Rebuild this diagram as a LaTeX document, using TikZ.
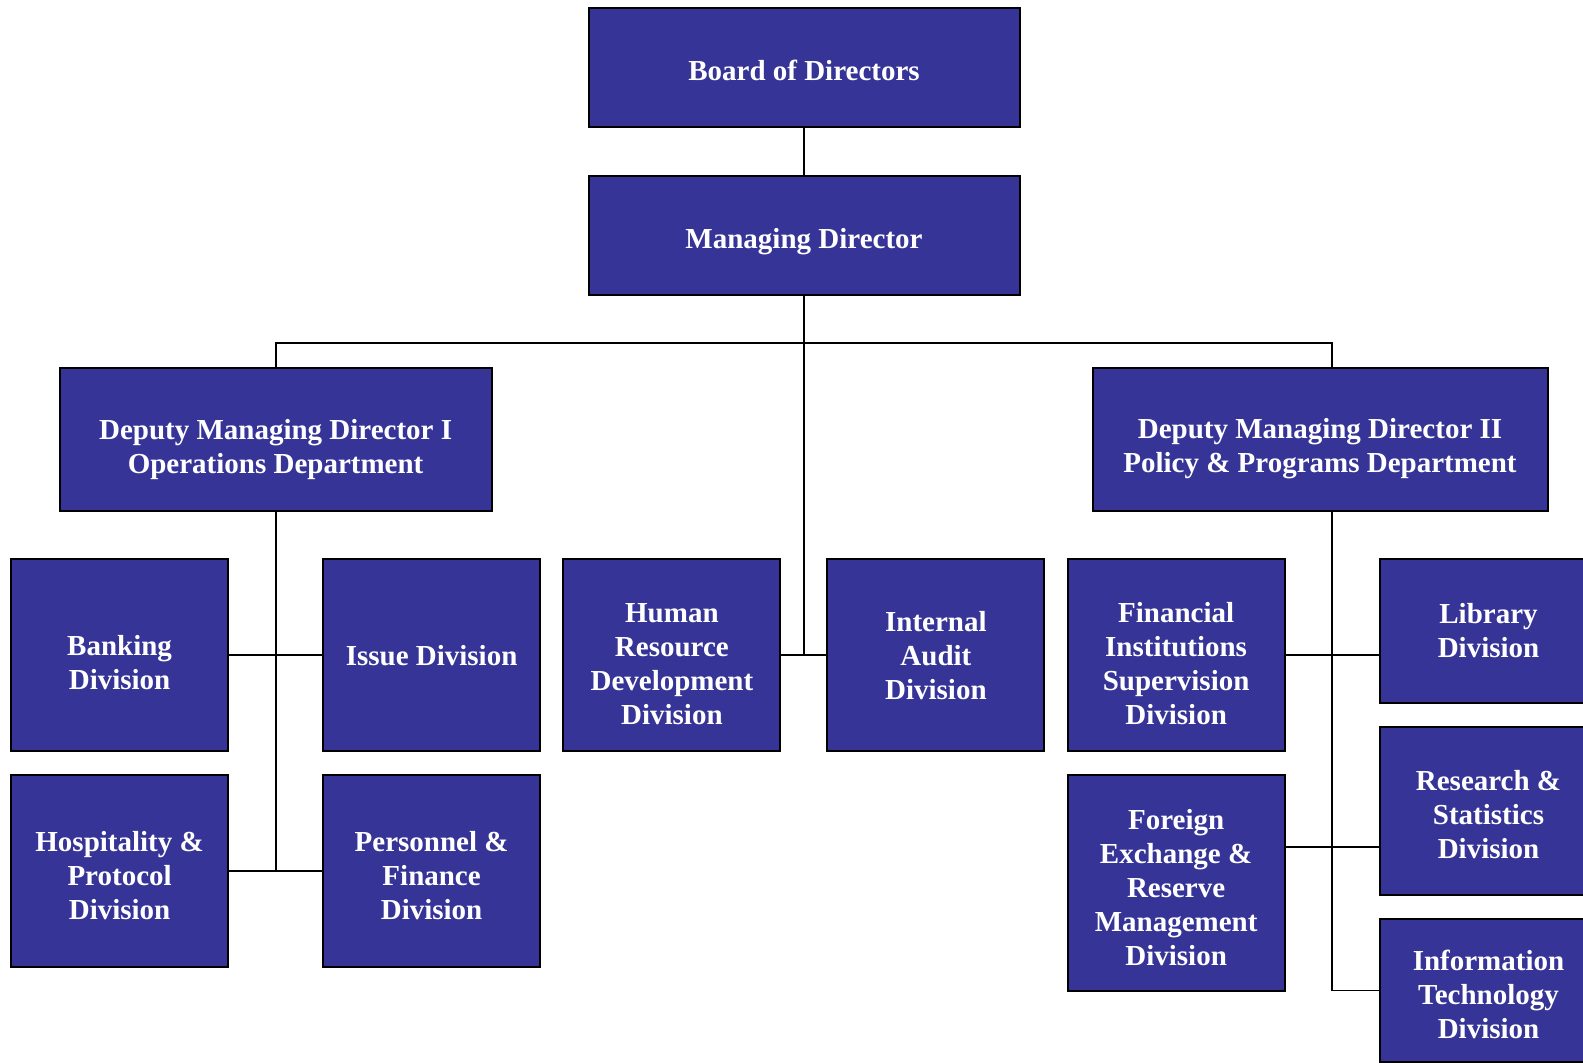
\documentclass[tikz,border=0pt]{standalone}
\usepackage{fontspec}
\setmainfont{Liberation Serif}
\usetikzlibrary{positioning}

\definecolor{orgblue}{RGB}{54,53,151}

\begin{document}
\begin{tikzpicture}[x=0.5pt,y=-0.5pt,
                    every node/.style={font=\bfseries\fontsize{14.5}{17}\selectfont},
                    orgbox/.style={draw=black,line width=1pt,fill=orgblue,text=white,
                                   align=center,inner sep=2pt,
                                   minimum width=108.5pt,minimum height=96pt},
                    tdrop/.style={text height=#1},
                    link/.style={draw=black,line width=0.9pt}
]
\useasboundingbox (0,0) rectangle (1583,1062);

% top of the chart
\node [orgbox,tdrop=12.9pt,minimum width=215.5pt,minimum height=59.5pt] at (804,67.7) (board) {Board of Directors};
\node [orgbox,tdrop=15.9pt,minimum width=215.5pt,minimum height=59.5pt] at (804,235.3) (md) {Managing Director};
%
\node [orgbox,tdrop=36.9pt,minimum width=216pt,minimum height=71.7pt] at (275.6,439.2) (dmd1) {Deputy Managing Director I\\Operations Department};
\node [orgbox,tdrop=36.9pt,minimum width=227.5pt,minimum height=71.7pt] at (1320,439.2) (dmd2) {Deputy Managing Director II\\Policy \& Programs Department};
%
% divisions under DMD I
\node [orgbox,tdrop=34.9pt] at (119.6,655.2) (bank) {Banking\\Division};
\node [orgbox,tdrop=10.9pt] at (431.6,655.2) (issue) {Issue Division};
\node [orgbox,tdrop=47.9pt] at (119.6,871.3) (hosp) {Hospitality \&\\Protocol\\Division};
\node [orgbox,tdrop=47.9pt] at (431.6,871.3) (pers) {Personnel \&\\Finance\\Division};
% divisions under the MD
\node [orgbox,tdrop=69.9pt] at (671.9,655.2) (hrd) {Human\\Resource\\Development\\Division};
\node [orgbox] at (935.9,655.2) (audit) {Internal\\Audit\\Division};
% divisions under DMD II
\node [orgbox,tdrop=69.4pt] at (1176.1,655.2) (fis) {Financial\\Institutions\\Supervision\\Division};
\node [orgbox,tdrop=81.9pt,minimum height=108pt] at (1176.1,883.4) (forex) {Foreign\\Exchange \&\\Reserve\\Management\\Division};
\node [orgbox,minimum height=71.7pt] at (1488.5,631) (lib) {Library\\Division};
\node [orgbox,tdrop=47.9pt,minimum height=83.8pt] at (1488.5,810.7) (res) {Research \&\\Statistics\\Division};
\node [orgbox,tdrop=47.9pt,minimum height=71.7pt] at (1488.5,990.4) (it) {Information\\Technology\\Division};
%
\coordinate (bus) at (804,343.3);
\coordinate (rspine) at (1331.7,343.3);
\coordinate (rsj) at (1331.7,847);
%
\draw [link] (board.south) -- (md.north);
\draw [link] (md.south) -- (md.south |- audit.west);
\draw [link] (dmd1.north) |- (bus) -| (rspine |- dmd2.north);
\draw [link] (hrd.east) -- (audit.west);
%
\draw [link] (dmd1.south) -- (dmd1.south |- hosp.east);
\draw [link] (bank.east) -- (issue.west);
\draw [link] (hosp.east) -- (pers.west);
%
\draw [link] (rspine |- dmd2.south) |- (it.west);
\draw [link] (fis.east) -- (lib.west |- fis.east);
\draw [link] (forex.east |- rsj) -- (res.west |- rsj);
\end{tikzpicture}
\end{document}
